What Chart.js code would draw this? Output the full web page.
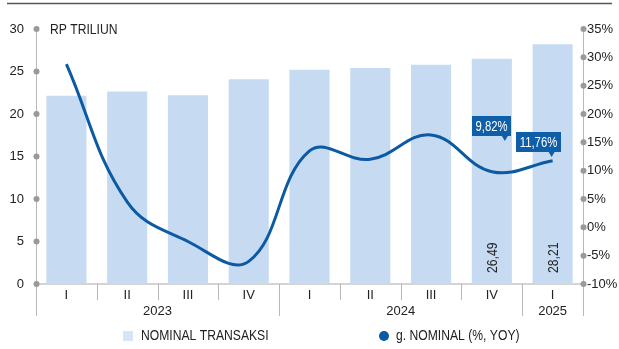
<!DOCTYPE html>
<html>
<head>
<meta charset="utf-8">
<script src="https://cdn.jsdelivr.net/npm/chart.js@4/dist/chart.umd.min.js"></script>
<style>
  html, body { margin: 0; padding: 0; background: #fff; }
  #wrap { width: 619px; height: 349px; }
</style>
</head>
<body>
<div id="wrap"><canvas id="nominalChart" width="619" height="349"></canvas></div>
<script>
const quarters = ["I", "II", "III", "IV", "I", "II", "III", "IV", "I"];
const years = ["2023", "2024", "2025"];
const quartersPerYear = [4, 4, 1];
const nominal = [22.15, 22.66, 22.2, 24.1, 25.2, 25.4, 25.8, 26.49, 28.21];
const growth = [28.8, 4.5, -2.5, -6.0, 13.5, 12.0, 16.3, 9.82, 11.76];
const leftTicks = [0, 5, 10, 15, 20, 25, 30];
const rightTicks = [-10, -5, 0, 5, 10, 15, 20, 25, 30, 35];
const labelledBars = [7, 8];
const labelledPoints = [7, 8];

const BAR = "#c6dbf1";
const LINE = "#0b5aa3";
const BOX = "#0f5ea8";
const AXIS = "#b8b8b8";
const DOT = "#9a9a9a";
const TEXT = "#222";
const SANS = "'Liberation Sans', Arial, sans-serif";
const SQUEEZE = 0.81; // horizontal scale for the condensed captions

const fmt = v => v.toFixed(2).replace(".", ",");

// draws text squeezed horizontally, anchored at its left edge
function narrowText(ctx, text, x, y) {
  ctx.save();
  ctx.translate(x, y);
  ctx.scale(SQUEEZE, 1);
  ctx.textAlign = "left";
  ctx.fillText(text, 0, 0);
  ctx.restore();
}

function narrowWidth(ctx, text) {
  return ctx.measureText(text).width * SQUEEZE;
}

// where each callout box sits relative to its point
const calloutPos = {
  7: { dx: 0, bottom: -36, pointer: 13 },
  8: { dx: -14, bottom: -9, pointer: -1 }
};

const decorations = {
  id: "decorations",
  beforeDatasetsDraw(chart) {
    const ctx = chart.ctx;
    const { left, right, bottom } = chart.chartArea;
    ctx.save();
    // rule across the top
    ctx.strokeStyle = "#555";
    ctx.lineWidth = 1.5;
    ctx.beginPath();
    ctx.moveTo(7, 3.5);
    ctx.lineTo(612, 3.5);
    ctx.stroke();

    // baseline
    ctx.strokeStyle = "#d4d4d4";
    ctx.lineWidth = 2;
    ctx.beginPath();
    ctx.moveTo(left, bottom);
    ctx.lineTo(right, bottom);
    ctx.stroke();
    ctx.restore();
  },
  afterDatasetsDraw(chart) {
    const ctx = chart.ctx;
    const { left, right, top, bottom } = chart.chartArea;
    const x = chart.scales.x;
    const y = chart.scales.y;
    const y1 = chart.scales.y1;
    const step = x.getPixelForValue(1) - x.getPixelForValue(0);
    ctx.save();

    // category separators, longer at year boundaries
    const yearEdges = [0];
    quartersPerYear.forEach(n => yearEdges.push(yearEdges[yearEdges.length - 1] + n));
    ctx.strokeStyle = AXIS;
    ctx.lineWidth = 1;
    for (let i = 0; i <= quarters.length; i++) {
      const px = Math.round(x.getPixelForValue(i) - step / 2) + 0.5;
      const long = yearEdges.includes(i);
      ctx.beginPath();
      ctx.moveTo(px, bottom);
      ctx.lineTo(px, long ? bottom + 32 : bottom + 16);
      ctx.stroke();
    }

    // vertical axes with dots on each tick
    ctx.beginPath();
    ctx.moveTo(left + 0.5, top);
    ctx.lineTo(left + 0.5, bottom);
    ctx.moveTo(right + 0.5, top);
    ctx.lineTo(right + 0.5, bottom + 32);
    ctx.stroke();
    ctx.fillStyle = DOT;
    leftTicks.forEach(v => {
      ctx.beginPath();
      ctx.arc(left + 0.5, y.getPixelForValue(v), 3, 0, Math.PI * 2);
      ctx.fill();
    });
    rightTicks.forEach(v => {
      ctx.beginPath();
      ctx.arc(right + 0.5, y1.getPixelForValue(v), 3, 0, Math.PI * 2);
      ctx.fill();
    });

    // year labels
    ctx.fillStyle = TEXT;
    ctx.font = "13px " + SANS;
    ctx.textAlign = "center";
    ctx.textBaseline = "middle";
    years.forEach((yr, k) => {
      const a = x.getPixelForValue(yearEdges[k]) - step / 2;
      const b = x.getPixelForValue(yearEdges[k + 1]) - step / 2;
      ctx.fillText(yr, (a + b) / 2, bottom + 27);
    });

    // unit label
    ctx.font = "15px " + SANS;
    narrowText(ctx, "RP TRILIUN", left + 14, top + 1);

    // values written up the last bars
    const bars = chart.getDatasetMeta(1).data;
    ctx.font = "15px " + SANS;
    labelledBars.forEach(i => {
      ctx.save();
      ctx.translate(bars[i].x + 5, bottom - 11);
      ctx.rotate(-Math.PI / 2);
      ctx.textBaseline = "alphabetic";
      narrowText(ctx, fmt(nominal[i]), 0, 0);
      ctx.restore();
    });

    // callout boxes on the growth line
    ctx.font = "14px " + SANS;
    labelledPoints.forEach(i => {
      const px = x.getPixelForValue(i);
      const py = y1.getPixelForValue(growth[i]);
      const pos = calloutPos[i];
      const text = fmt(growth[i]) + "%";
      const tw = narrowWidth(ctx, text);
      const w = Math.round(tw) + 7;
      const h = 20;
      const bx = Math.round(px + pos.dx - w / 2);
      const by = Math.round(py + pos.bottom - h);
      const tip = px + pos.pointer;
      ctx.fillStyle = BOX;
      ctx.fillRect(bx, by, w, h);
      ctx.beginPath();
      ctx.moveTo(tip - 3, by + h);
      ctx.lineTo(tip + 3, by + h);
      ctx.lineTo(tip, by + h + 5);
      ctx.closePath();
      ctx.fill();
      ctx.fillStyle = "#fff";
      ctx.textBaseline = "middle";
      narrowText(ctx, text, bx + (w - tw) / 2, by + h / 2 + 1);
    });

    // legend
    ctx.fillStyle = "#d3e5f7";
    ctx.fillRect(123, 331, 10, 10);
    ctx.fillStyle = LINE;
    ctx.beginPath();
    ctx.arc(384, 336, 5, 0, Math.PI * 2);
    ctx.fill();
    ctx.fillStyle = TEXT;
    ctx.font = "15px " + SANS;
    ctx.textBaseline = "middle";
    narrowText(ctx, "NOMINAL TRANSAKSI", 141, 336);
    narrowText(ctx, "g. NOMINAL (%, YOY)", 396, 336);
    ctx.restore();
  }
};

const tickFont = { family: SANS, size: 13 };

new Chart(document.getElementById("nominalChart"), {
  data: {
    labels: quarters,
    datasets: [
      {
        type: "line",
        label: "g. NOMINAL (%, YOY)",
        data: growth,
        yAxisID: "y1",
        borderColor: LINE,
        borderWidth: 3,
        pointRadius: 0,
        tension: 0.4,
        fill: false,
        order: 1
      },
      {
        type: "bar",
        label: "NOMINAL TRANSAKSI",
        data: nominal,
        yAxisID: "y",
        backgroundColor: BAR,
        barPercentage: 0.66,
        categoryPercentage: 1,
        order: 2
      }
    ]
  },
  options: {
    responsive: false,
    animation: false,
    layout: { padding: { top: 29, left: 0, right: 0, bottom: 0 } },
    plugins: { legend: { display: false }, tooltip: { enabled: false } },
    scales: {
      x: {
        offset: true,
        grid: { display: false, drawTicks: false },
        border: { display: false },
        ticks: { color: TEXT, font: tickFont, padding: 4, maxRotation: 0, autoSkip: false },
        afterFit: s => { s.height = 65; }
      },
      y: {
        position: "left",
        min: 0,
        max: 30,
        grid: { display: false, drawTicks: false },
        border: { display: false },
        ticks: { stepSize: 5, color: TEXT, font: tickFont, padding: 12 },
        afterFit: s => { s.width = 36; }
      },
      y1: {
        position: "right",
        min: -10,
        max: 35,
        grid: { display: false, drawTicks: false },
        border: { display: false },
        ticks: { stepSize: 5, color: TEXT, font: tickFont, padding: 4, callback: v => v + "%" },
        afterFit: s => { s.width = 36; }
      }
    }
  },
  plugins: [decorations]
});
</script>
</body>
</html>
